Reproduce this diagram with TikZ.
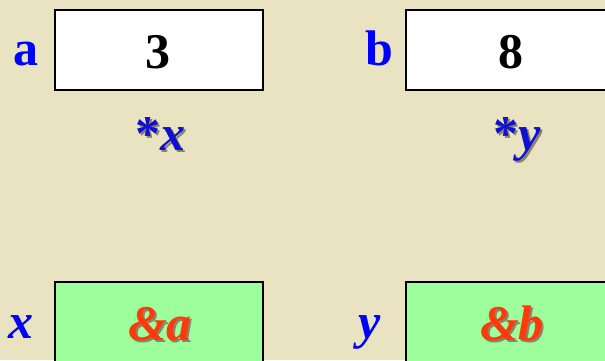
\documentclass[tikz,border=0pt]{standalone}
\usepackage{fontspec}
\setmainfont{Liberation Serif}
\definecolor{bgc}{HTML}{EAE3C2}
\definecolor{labblue}{HTML}{0000FF}
\definecolor{ptrblue}{HTML}{1010D0}
\definecolor{refred}{HTML}{FF3A0A}
\definecolor{boxgreen}{HTML}{9CFF9C}
\definecolor{shadowc}{HTML}{8A846C}
\newcommand{\shadowed}[2]{\makebox[0pt][l]{\hspace{2pt}\raisebox{-2pt}{\textcolor{shadowc}{#2}}}\textcolor{#1}{#2}}
\tikzset{
  bigfont/.style={font=\fontsize{50}{50}\selectfont\bfseries},
  varlabel/.style={bigfont, text=labblue, anchor=base, inner sep=0pt},
  cellbox/.style={draw=black, line width=2pt, minimum width=208pt, minimum height=80pt, inner sep=0pt},
  valtext/.style={bigfont, text=black, anchor=base, inner sep=0pt},
  fancytext/.style={bigfont, anchor=base, inner sep=0pt},
}
\begin{document}
\begin{tikzpicture}[x=1pt,y=-1pt]
\fill[bgc] (0,0) rectangle (605,360);
\useasboundingbox (0,0) rectangle (605,360);
% top boxes
\node[cellbox, fill=white] (boxa) at (159,50) {};
\node[cellbox, fill=white] (boxb) at (510,50) {};
\node[varlabel] (laba) at (26,65) {a};
\node[varlabel] (labb) at (379,65) {b};
\node[valtext] (vala) at (158,68) {3};
\node[valtext] (valb) at (511,68) {8};
% pointer texts
\node[fancytext] (ptrx) at (160,150) {\shadowed{ptrblue}{*\textit{x}}};
\node[fancytext] (ptry) at (517,150) {\shadowed{ptrblue}{*\textit{y}}};
% bottom boxes
\node[cellbox, fill=boxgreen] (boxx) at (159,322) {};
\node[cellbox, fill=boxgreen] (boxy) at (510,322) {};
\node[varlabel] (labx) at (21,338) {\textit{x}};
\node[varlabel] (laby) at (370,338) {\textit{y}};
\node[fancytext] (refa) at (160,340) {\shadowed{refred}{\textit{\&a}}};
\node[fancytext] (refb) at (512,340) {\shadowed{refred}{\textit{\&b}}};
\end{tikzpicture}
\end{document}
